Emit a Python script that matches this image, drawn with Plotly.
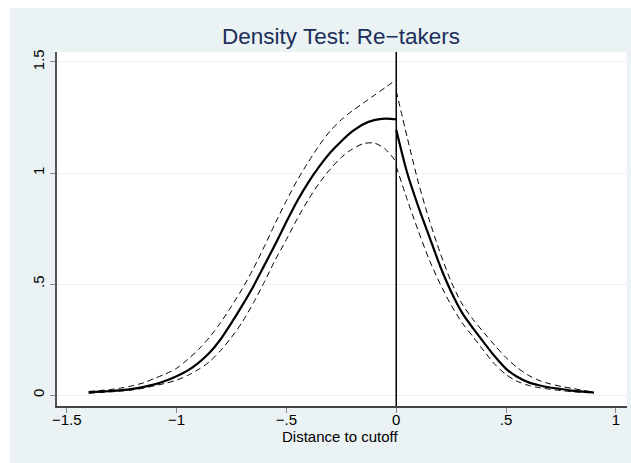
import plotly.graph_objects as go

# ---- data ----
x_left = [-1.4, -1.35, -1.3, -1.25, -1.2, -1.15, -1.1, -1.05, -1.0, -0.95, -0.9, -0.85, -0.8, -0.75,
          -0.7, -0.65, -0.6, -0.55, -0.5, -0.45, -0.4, -0.35, -0.3, -0.25, -0.2, -0.15, -0.1, -0.05, 0.0]
dens_left = [0.012, 0.015, 0.018, 0.022, 0.028, 0.037, 0.048, 0.064, 0.085, 0.11, 0.145, 0.19, 0.25, 0.325,
             0.405, 0.49, 0.585, 0.68, 0.78, 0.875, 0.958, 1.03, 1.092, 1.143, 1.187, 1.22, 1.238, 1.245, 1.242]
upper_left = [0.016, 0.02, 0.025, 0.032, 0.042, 0.055, 0.075, 0.095, 0.12, 0.16, 0.205, 0.26, 0.325, 0.40,
              0.48, 0.57, 0.67, 0.775, 0.875, 0.968, 1.05, 1.125, 1.19, 1.24, 1.28, 1.315, 1.35, 1.385, 1.42]
lower_left = [0.008, 0.011, 0.014, 0.018, 0.023, 0.031, 0.042, 0.053, 0.067, 0.088, 0.115, 0.15, 0.20, 0.26,
              0.33, 0.415, 0.51, 0.61, 0.70, 0.795, 0.88, 0.955, 1.018, 1.07, 1.108, 1.132, 1.135, 1.108, 1.05]

x_right = [0.0, 0.05, 0.1, 0.15, 0.2, 0.25, 0.3, 0.35, 0.4, 0.45, 0.5, 0.55, 0.6, 0.65,
           0.7, 0.75, 0.8, 0.85, 0.9]
dens_right = [1.195, 1.0, 0.85, 0.715, 0.58, 0.465, 0.37, 0.30, 0.235, 0.172, 0.118, 0.082, 0.058, 0.044,
              0.034, 0.027, 0.02, 0.015, 0.011]
upper_right = [1.37, 1.16, 0.96, 0.79, 0.64, 0.51, 0.41, 0.34, 0.28, 0.222, 0.168, 0.124, 0.09, 0.066,
               0.05, 0.039, 0.03, 0.021, 0.013]
lower_right = [1.03, 0.88, 0.74, 0.61, 0.50, 0.405, 0.325, 0.262, 0.197, 0.137, 0.092, 0.062, 0.044, 0.033,
               0.026, 0.02, 0.015, 0.012, 0.009]

x_ticks = [-1.5, -1.0, -0.5, 0.0, 0.5, 1.0]
x_tick_labels = ["\u22121.5", "\u22121", "\u2212.5", "0", ".5", "1"]
y_ticks = [0.0, 0.5, 1.0, 1.5]
y_tick_labels = ["0", ".5", "1", "1.5"]
cutoff = 0.0

title_text = "Density Test: Re\u2212takers"
x_title = "Distance to cutoff"

BG = "#EAF2F3"
NAVY = "#1C2E5A"
FONT = "Liberation Sans, Arial, Helvetica, sans-serif"

fig = go.Figure()

def add_line(xs, ys, dashed):
    fig.add_trace(go.Scatter(
        x=xs, y=ys, mode="lines",
        line=dict(color="black", width=1 if dashed else 2.2,
                  dash="6px,4px" if dashed else "solid", shape="spline", smoothing=0.8),
        showlegend=False, hoverinfo="skip"))

for xs, ys in [(x_left, upper_left), (x_left, lower_left), (x_right, upper_right), (x_right, lower_right)]:
    add_line(xs, ys, True)
for xs, ys in [(x_left, dens_left), (x_right, dens_right)]:
    add_line(xs, ys, False)

W, H = 631, 463
L, R, T, B = 57, 4, 52, 57
pw = W - L - R
ph = H - T - B

def px_to_paper_x(px):
    return (px - L) / pw

def py_to_paper_y(py):
    return (H - B - py) / ph

shapes = [
    # white margin strips outside the light graph region
    dict(type="rect", xref="paper", yref="paper", x0=-0.2, x1=px_to_paper_x(10),
         y0=-0.3, y1=1.3, fillcolor="white", line=dict(width=0), layer="above"),
    dict(type="rect", xref="paper", yref="paper", x0=-0.2, x1=1.2,
         y0=py_to_paper_y(8), y1=1.3, fillcolor="white", line=dict(width=0), layer="above"),
    # vertical cutoff line
    dict(type="line", xref="x", yref="paper", x0=cutoff, x1=cutoff, y0=0, y1=1,
         line=dict(color="black", width=1.5), layer="above"),
]

fig.update_layout(
    width=W, height=H,
    margin=dict(l=L, r=R, t=T, b=B),
    paper_bgcolor=BG, plot_bgcolor="white",
    font=dict(family=FONT, color="black"),
    title=dict(text=title_text, x=px_to_paper_x(341), xref="paper",
               y=1 - 36 / H, yref="container", xanchor="center", yanchor="middle",
               font=dict(size=22.5, color=NAVY, family=FONT)),
    shapes=shapes,
    annotations=[dict(text=x_title, xref="paper", yref="paper",
                      x=px_to_paper_x(340), y=py_to_paper_y(437),
                      xanchor="center", yanchor="middle", showarrow=False,
                      font=dict(size=15, color="black", family=FONT))],
    xaxis=dict(range=[-1.5441, 1.0503], tickvals=x_ticks, ticktext=x_tick_labels,
               showgrid=False, zeroline=False, showline=True, linecolor="#444444", linewidth=1.5,
               ticks="outside", ticklen=5, tickcolor="#888888", tickwidth=1.2,
               ticklabelstandoff=-6,
               tickfont=dict(size=15, family=FONT, color="black")),
    yaxis=dict(range=[-0.0495, 1.545], tickvals=y_ticks, ticktext=y_tick_labels,
               showgrid=True, gridcolor=BG, gridwidth=1.2, zeroline=False,
               showline=True, linecolor="#555555", linewidth=1.5,
               ticks="outside", ticklen=5, tickcolor="#888888", tickwidth=1.2,
               tickangle=-90, tickfont=dict(size=15, family=FONT, color="black")),
)

fig.write_html("out.html")
